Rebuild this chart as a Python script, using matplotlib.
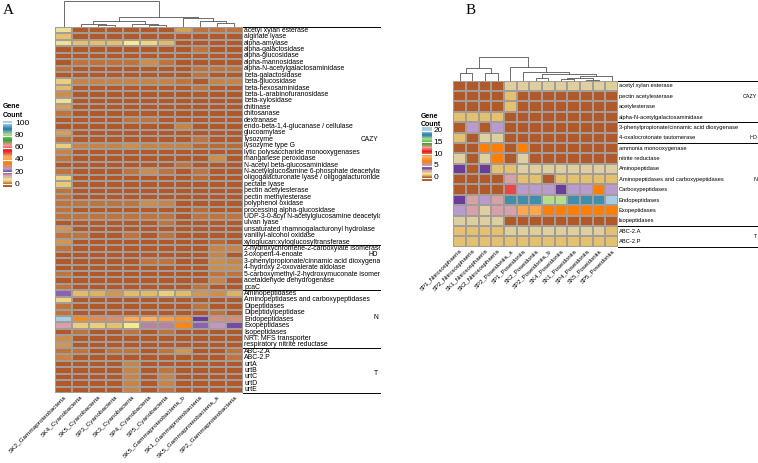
import numpy as np
import matplotlib
matplotlib.use('Agg')
import matplotlib.pyplot as plt
from matplotlib.colors import LinearSegmentedColormap
from matplotlib.patches import Rectangle

plt.rcParams['font.family'] = ['Liberation Sans', 'DejaVu Sans']

# ---------------- data : panel A ----------------
A_cols = ['SK2_Gammaproteobacteria', 'SK4_Cyanobacteria', 'SK5_Cyanobacteria', 'SP3_Cyanobacteria',
          'SK3_Cyanobacteria', 'SP4_Cyanobacteria', 'SP5_Cyanobacteria', 'SK5_Gammaproteobacteria_b',
          'SK1_Gammaproteobacteria', 'SK5_Gammaproteobacteria_a', 'SP2_Gammaproteobacteria']

A_rows_cazy = ['acetyl xylan esterase', 'alginate lyase', 'alpha-amylase', 'alpha-galactosidase',
               'alpha-glucosidase', 'alpha-mannosidase', 'alpha-N-acetylgalactosaminidase',
               'beta-galactosidase', 'beta-glucosidase', 'beta-hexosaminidase',
               'beta-L-arabinofuranosidase', 'beta-xylosidase', 'chitinase', 'chitosanase', 'dextranase',
               'endo-beta-1,4-glucanase / cellulase', 'glucoamylase', 'lysozyme', 'lysozyme type G',
               'lytic polysaccharide monooxygenases', 'manganese peroxidase', 'N-acetyl beta-glucosaminidase',
               'N-acetylglucosamine 6-phosphate deacetylase',
               'oligogalacturonate lyase / oligogalacturonide lyase', 'pectate lyase',
               'pectin acetylesterase', 'pectin methylesterase', 'polyphenol oxidase',
               'processing alpha-glucosidase', 'UDP-3-0-acyl N-acetylglucosamine deacetylase',
               'ulvan lyase', 'unsaturated rhamnogalacturonyl hydrolase', 'vanillyl-alcohol oxidase',
               'xyloglucan:xyloglucosyltransferase']
A_rows_hd = ['2-hydroxychromene-2-carboxylate isomerase', '2-oxopent-4-enoate',
             '3-phenylpropionate/cinnamic acid dioxygenase', '4-hydroxy 2-oxovalerate aldolase',
             '5-carboxymethyl-2-hydroxymuconate isomerase', 'acetaldehyde dehydrogenase', 'pcaC']
A_rows_n = ['Aminopeptidases', 'Aminopeptidases and carboxypeptidases', 'Dipeptidases',
            'Dipeptidylpeptidase', 'Endopeptidases', 'Exopeptidases', 'Isopeptidases',
            'NRT: MFS transporter', 'respiratory nitrite reductase']
A_rows_t = ['ABC-2.A', 'ABC-2.P', 'urtA', 'urtB', 'urtC', 'urtD', 'urtE']

A_cazy = [
    [9, 0, 0, 0, 0, 0, 0, 3.5, 1.5, 1.5, 1.5],
    [5, 0, 0, 0, 0, 0, 0, 0, 0, 0, 0],
    [9, 5, 5, 5, 8.5, 7, 4.5, 0, 0, 0, 0],
    [0, 0, 0, 0, 0, 0, 0, 0, 1.5, 0, 0],
    [0, 0, 0, 0, 0, 0, 0, 0, 0, 0, 0],
    [0, 1.5, 1.5, 1.5, 1.5, 2.5, 1.5, 0, 0, 0, 0],
    [1.5, 0, 0, 0, 0, 0, 0, 0, 1.5, 1.5, 1.5],
    [0, 0, 0, 0, 0, 0, 0, 0, 1.5, 0, 0],
    [6, 2, 2, 2, 2, 2, 2, 1.5, 0, 2, 2],
    [4.5, 0, 0, 0, 0, 0, 0, 0, 1.5, 0, 0],
    [2.5, 0, 0, 0, 0, 0, 0, 0, 0, 0, 0],
    [9, 0, 0, 0, 0, 0, 0, 0, 0, 0, 0],
    [3.5, 0, 0, 0, 0, 0, 0, 0, 0, 0, 0],
    [1.5, 0, 0, 0, 0, 0, 0, 0, 0, 0, 0],
    [0, 0, 0, 0, 1.5, 1.5, 0, 0, 0, 0, 0],
    [0, 0, 0, 0, 0, 0, 0, 2, 0, 0, 0],
    [3.5, 0, 0, 0, 0, 0, 0, 0, 0, 0, 0],
    [1.5, 0, 0, 0, 0, 0, 0, 0, 1.5, 0, 0],
    [6, 2, 2, 2, 2.5, 2, 2, 2, 1, 1, 1],
    [2, 0, 0, 0, 0, 0, 0, 0, 0, 0, 0],
    [1.5, 0, 0, 0, 0, 0, 0, 0, 0, 2.5, 0],
    [0, 0, 0, 0, 0, 0, 0, 1.5, 0, 0, 0],
    [1.5, 0, 0, 0, 1.5, 2.5, 1.5, 0, 1.5, 0, 0],
    [6.5, 0, 0, 0, 0, 0, 0, 0, 1, 0, 0],
    [5.5, 0, 0, 0, 0, 0, 0, 0, 0, 0, 0],
    [1.5, 0, 0, 0, 0, 0, 0, 0, 0, 0, 0],
    [1.5, 0, 0, 0, 0, 0, 0, 0, 0, 0, 0],
    [1.5, 1.5, 1.5, 1.5, 1.5, 2.5, 2, 0, 0, 0, 0],
    [1.5, 0, 0, 0, 0, 0, 0, 0, 1, 0, 0],
    [1.5, 1.5, 1.5, 1.5, 1.5, 1.5, 1.5, 0, 1.5, 1.5, 1.5],
    [0, 0, 0, 0, 0, 0, 1.5, 0, 0, 0, 0],
    [3, 0, 0, 0, 0, 0, 0, 0, 0, 0, 0],
    [1.5, 1.5, 0, 0, 1.5, 0, 1.5, 0, 0, 0, 0],
    [3, 0, 0, 0, 0, 0, 0, 0, 0, 1, 0],
]
A_hd = [
    [1.5, 0, 0, 0, 0, 0, 0, 0, 0, 2, 2],
    [0, 0, 0, 0, 0, 0, 0, 0, 0, 2, 0],
    [0, 0, 0, 0, 0, 1.5, 1.5, 0, 0, 2.5, 2],
    [0, 0, 0, 0, 0, 0, 0, 0, 0, 2.5, 2.5],
    [1.5, 0, 0, 0, 0, 0, 0, 0, 0, 1.5, 1.5],
    [0, 0, 0, 0, 0, 0, 0, 0, 0, 2, 0],
    [1.5, 0, 0, 0, 0, 0, 0, 0, 1.5, 0, 0],
]
A_n = [
    [22, 4.5, 4, 3, 4.5, 4.5, 6, 4.5, 3, 2.5, 4],
    [6.5, 0, 0, 0, 0, 0, 0, 0, 0, 0, 0],
    [1.5, 0, 0, 0, 0, 0, 0, 0, 1.5, 0, 0],
    [1.5, 0, 0, 0, 0, 0, 0, 0, 0, 1.5, 0],
    [100, 37, 31, 30, 43, 44, 41, 38, 20, 29, 30],
    [15, 6, 6, 5, 8.5, 16.5, 16.5, 36, 22, 26, 21],
    [0, 1.5, 0, 0, 1.5, 0, 1.5, 0, 0, 0, 0],
    [2.5, 0, 0, 0, 0, 0, 0, 0, 0, 0, 0],
    [3, 0, 0, 0, 0, 0, 0, 0, 0, 0, 0],
]
A_t = [
    [1.5, 1.5, 0, 1.5, 1.5, 0, 1.5, 3, 0, 0, 1.5],
    [2, 0, 0, 0, 0, 0, 0, 0, 0, 0, 1.5],
    [0, 0, 0, 0, 2, 0, 0, 0, 0, 0, 0],
    [0, 0, 0, 0, 2, 0, 1.5, 0, 0, 0, 0],
    [0, 0, 0, 0, 2, 0, 2, 0, 0, 0, 0],
    [0, 0, 0, 0, 2, 0, 2, 0, 0, 0, 0],
    [0, 0, 0, 0, 2, 0, 1.5, 0, 0, 0, 0],
]
A_groups = ['CAZY', 'HD', 'N', 'T']
A_legend_ticks = [0, 20, 40, 60, 80, 100]
# column dendrogram: merge pairs (node ids, leaves 0..10, new nodes from 11) and heights
A_link_left = [2, 5, 1, 4, 9, 13, 8, 7, 16, 0]
A_link_right = [3, 6, 11, 12, 10, 14, 15, 17, 18, 19]
A_link_height = [1.7, 1.7, 2.7, 2.7, 3.7, 6.3, 6.3, 8.7, 10.3, 26.3]

# ---------------- data : panel B ----------------
B_cols = ['SP1_Nitrososphaeria', 'SP2_Nitrososphaeria', 'SK1_Nitrososphaeria', 'SK2_Nitrososphaeria',
          'SP2_Poseidoniia_a', 'SP1_Poseidoniia', 'SK2_Poseidoniia', 'SP2_Poseidoniia_b',
          'SK4_Poseidoniia', 'SK1_Poseidoniia', 'SP4_Poseidoniia', 'SK5_Poseidoniia', 'SP5_Poseidoniia']
B_rows_cazy = ['acetyl xylan esterase', 'pectin acetylesterase', 'acetylesterase',
               'alpha-N-acetylgalactosaminidase']
B_rows_hd = ['3-phenylpropionate/cinnamic acid dioxygenase', '4-oxalocrotonate tautomerase']
B_rows_n = ['ammonia monooxygenase', 'nitrite reductase', 'Aminopeptidase',
            'Aminopeptidases and carboxypeptidases', 'Carboxypeptidases', 'Endopeptidases',
            'Exopeptidases', 'Isopeptidases']
B_rows_t = ['ABC-2.A', 'ABC-2.P']

B_cazy = [
    [0, 0, 0, 0, 2, 2, 2, 2, 2, 2, 2, 2, 2],
    [0, 0, 0, 0, 1, 0, 0, 0, 0, 0, 0, 0, 0],
    [0, 0, 0, 0, 1, 0, 0, 0, 0, 0, 0, 0, 0],
    [1, 1, 1, 1, 0, 0, 0, 0, 0, 0, 0, 0, 0],
]
B_hd = [
    [0, 5, 0, 5, 0, 0, 0, 0, 0, 0, 0, 0, 0],
    [1, 0, 2, 2, 0, 0, 0, 0, 0, 0, 0, 0, 0],
]
B_n = [
    [0, 0, 7, 7, 0, 7, 0, 0, 0, 0, 0, 0, 0],
    [2, 0, 2, 7, 0, 2, 0, 0, 0, 0, 0, 0, 0],
    [4, 0, 4, 1, 1, 2, 2, 2, 2, 2, 2, 2, 2],
    [0, 0, 0, 0, 3, 1, 1, 0, 1, 1, 1, 1, 1],
    [0, 0, 0, 0, 11.6, 5, 5, 5, 4, 5, 5, 7, 5],
    [4, 3, 5, 3, 17.8, 17.8, 17.8, 16.4, 16.4, 17.8, 17.8, 17.8, 20],
    [5, 3, 2, 3, 3, 8.5, 8.5, 7, 7, 7, 7, 7, 7],
    [2, 2, 2, 2, 0, 0, 0, 0, 0, 0, 0, 0, 0],
]
B_t = [
    [1, 1, 1, 1, 2, 2, 2, 2, 2, 2, 2, 2, 1],
    [1, 1, 1, 1, 1, 1, 1, 1, 1, 1, 1, 1, 1],
]
B_groups = ['CAZY', 'HD', 'N', 'T']
B_legend_ticks = [0, 5, 10, 15, 20]
B_link_left = [0, 2, 13, 10, 8, 17, 6, 18, 19, 5, 4, 15]
B_link_right = [1, 3, 14, 11, 9, 16, 7, 12, 20, 21, 22, 23]
B_link_height = [8, 8, 12.4, 1.0, 1.2, 2.4, 2.4, 4.7, 6.5, 9, 13.4, 24]

# ---------------- style ----------------
anchors = [(0.000, '#b15928'), (0.045, '#e2bf6c'), (0.085, '#f6ec96'), (0.100, '#d9cc9f'),
           (0.150, '#d6a0a8'), (0.200, '#6a3d9a'), (0.250, '#b99bd2'), (0.350, '#ff7f00'),
           (0.450, '#fdb568'), (0.550, '#e31a1c'), (0.640, '#fb9a99'), (0.730, '#33a02c'),
           (0.820, '#b2df8a'), (0.910, '#1f78b4'), (1.000, '#a6cee3')]
cmap = LinearSegmentedColormap.from_list('genecount', anchors)

W, H = 758, 463
fig = plt.figure(figsize=(W / 100, H / 100), dpi=100)


def box(x0, y0, x1, y1):
    return [x0 / W, 1 - y1 / H, (x1 - x0) / W, (y1 - y0) / H]


def heatmap(ax, blocks, rowblocks, cols, vmax, row_fs, col_fs, clip, line_len, grp_names,
            grp_label_rows, grp_x, grp_fs):
    data = np.array(sum(blocks, []), dtype=float)
    rows = sum(rowblocks, [])
    nr, nc = data.shape
    ax.pcolormesh(np.arange(nc + 1), np.arange(nr + 1), data, cmap=cmap, vmin=0, vmax=vmax,
                  edgecolors='#a39c98', linewidth=0.3, antialiased=False)
    ax.set_xlim(0, nc)
    ax.set_ylim(nr, 0)
    for s in ax.spines.values():
        s.set_visible(False)
    ax.set_yticks([])
    ax.set_xticks(np.arange(nc) + 0.5)
    ax.set_xticklabels(cols, rotation=45, ha='right', va='top', rotation_mode='anchor',
                       fontsize=col_fs)
    ax.tick_params(axis='x', length=0, pad=1.0)
    for i, r in enumerate(rows):
        t = ax.text(nc + 0.06, i + 0.5, r, fontsize=row_fs, va='center', ha='left', clip_on=True)
        t.set_clip_path(clip)
    bounds = np.concatenate([[0], np.cumsum([len(b) for b in rowblocks])])
    for b in bounds:
        ax.plot([nc, nc + line_len], [b, b], color='black', lw=0.7, clip_on=False)
    for name, yr in zip(grp_names, grp_label_rows):
        t = ax.text(grp_x, yr, name, ha='right', va='center', fontsize=grp_fs, clip_on=True)
        t.set_clip_path(clip)


def dendro(ax, left, right, height, n, top):
    pos = {i: i + 0.5 for i in range(n)}
    hg = {i: 0.0 for i in range(n)}
    for k, (a, b, h) in enumerate(zip(left, right, height)):
        xa, xb = pos[a], pos[b]
        ax.plot([xa, xa, xb, xb], [hg[a], h, h, hg[b]], color='#555555', lw=0.6)
        pos[n + k] = (xa + xb) / 2
        hg[n + k] = h
    ax.set_xlim(0, n)
    ax.set_ylim(0, top)
    ax.axis('off')


def legend(cax, vmax, ticks, ylim, lab_x, fs):
    edges = np.linspace(ylim[0], ylim[1], 300)
    vals = np.clip((edges[:-1] + edges[1:]) / 2, 0, vmax)
    cax.pcolormesh([0, 1], edges, vals[:, None], cmap=cmap, vmin=0, vmax=vmax)
    cax.set_xlim(0, 1)
    cax.set_ylim(*ylim)
    for t in ticks:
        cax.axhline(t, color='white', lw=0.8)
        cax.text(lab_x, t, str(t), ha='left', va='center', fontsize=fs, clip_on=False)
    cax.axis('off')


clipA = Rectangle((0, 0), 380 / W, 1, transform=fig.transFigure)
clipB = Rectangle((380 / W, 0), 1 - 380 / W, 1, transform=fig.transFigure)

# ---------------- panel A ----------------
axA = fig.add_axes(box(55, 27, 243, 393))
nA = len(A_cols)
heatmap(axA, [A_cazy, A_hd, A_n, A_t], [A_rows_cazy, A_rows_hd, A_rows_n, A_rows_t], A_cols,
        100, 4.95, 4.6, clipA, (380 - 243) / (188 / nA), A_groups, [17.5, 35.5, 45.3, 53.9],
        nA + (378 - 243) / (188 / nA), 4.8)
axdA = fig.add_axes(box(55, 0, 243, 27))
dendro(axdA, A_link_left, A_link_right, A_link_height, nA, 27)
caxA = fig.add_axes(box(3.3, 121, 12.3, 187))
legend(caxA, 100, A_legend_ticks, (-4.4, 103.8), 1.3, 6)
fig.text(3 / W, 1 - 107 / H, 'Gene', fontsize=5, fontweight='bold', va='center')
fig.text(3 / W, 1 - 115.5 / H, 'Count', fontsize=5, fontweight='bold', va='center')
fig.text(3 / W, 1 - 10 / H, 'A', fontsize=11, va='center', family='Liberation Serif')

# ---------------- panel B ----------------
axB = fig.add_axes(box(453.3, 80.7, 618, 246.7))
nB = len(B_cols)
cwB = 164.7 / nB
heatmap(axB, [B_cazy, B_hd, B_n, B_t], [B_rows_cazy, B_rows_hd, B_rows_n, B_rows_t], B_cols,
        20, 4.15, 4.3, clipB, (760 - 618) / cwB, B_groups, [1.57, 5.52, 9.57, 15.06],
        nB + (757 - 618) / cwB, 3.9)
axdB = fig.add_axes(box(453.3, 56, 618, 80.7))
dendro(axdB, B_link_left, B_link_right, B_link_height, nB, 24.7)
caxB = fig.add_axes(box(421.7, 127, 431.7, 181))
legend(caxB, 20, B_legend_ticks, (-1.49, 21.5), 1.15, 6)
fig.text(421 / W, 1 - 116.5 / H, 'Gene', fontsize=5, fontweight='bold', va='center')
fig.text(421 / W, 1 - 124.5 / H, 'Count', fontsize=5, fontweight='bold', va='center')
fig.text(466 / W, 1 - 10 / H, 'B', fontsize=11, va='center', family='Liberation Serif')

fig.savefig('out.png', dpi=100)
